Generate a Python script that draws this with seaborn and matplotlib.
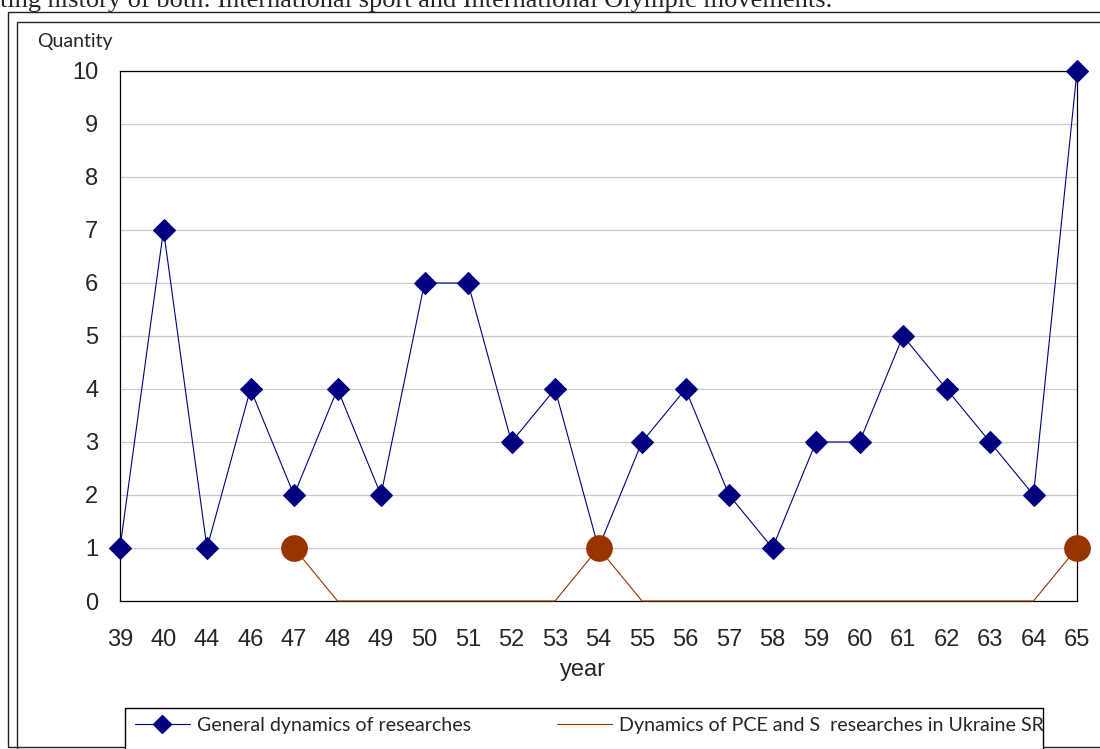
import numpy as np
import pandas as pd
import matplotlib.pyplot as plt
import seaborn as sns
from matplotlib.lines import Line2D
from matplotlib.patches import Rectangle

years = ['39', '40', '44', '46', '47', '48', '49', '50', '51', '52', '53', '54',
         '55', '56', '57', '58', '59', '60', '61', '62', '63', '64', '65']
general = [1, 7, 1, 4, 2, 4, 2, 6, 6, 3, 4, 1, 3, 4, 2, 1, 3, 3, 5, 4, 3, 2, 10]
ukraine = [np.nan, np.nan, np.nan, np.nan, 1, 0, 0, 0, 0, 0, 0, 1,
           0, 0, 0, 0, 0, 0, 0, 0, 0, 0, 1]
y_ticks = list(range(0, 11))

label_general = 'General dynamics of researches'
label_ukraine = 'Dynamics of PCE and S  researches in Ukraine SR'
header_text = 'ting history of both: International sport and International Olympic movements.'

navy = '#000080'
brown = '#993300'

df = pd.DataFrame({'pos': range(len(years)), 'year': years,
                   'general': general, 'ukraine': ukraine})

sns.set_style('white')
plt.rcParams['font.family'] = ['Liberation Sans', 'DejaVu Sans']

fig = plt.figure(figsize=(11, 7.49), dpi=100)

#page / chart frames
W, H = 1100, 749
fig.patches.append(Rectangle((8 / W, 1 - 747 / H), 1.2, (747 - 12) / H, transform=fig.transFigure,
                             fill=False, edgecolor='#222222', lw=1.0, zorder=0))
fig.patches.append(Rectangle((17 / W, -0.05), 1.2, 0.05 + (749 - 22) / H, transform=fig.transFigure,
                             fill=False, edgecolor='#222222', lw=1.0, zorder=0))

ax = fig.add_axes([120 / W, 1 - 601 / H, (1077 - 120) / W, (601 - 71) / H])

#PCE and S line
sns.lineplot(data=df.dropna(), x='pos', y='ukraine', color=brown, lw=0.8, ax=ax,
             clip_on=False, zorder=4)
sns.scatterplot(data=df[df['ukraine'] == 1], x='pos', y='ukraine', color=brown, s=370,
                edgecolor=brown, linewidth=0, ax=ax, clip_on=False, zorder=6)
#general dynamics
sns.lineplot(data=df, x='pos', y='general', color=navy, lw=0.8, marker='D', markersize=11,
             markeredgecolor=navy, ax=ax, clip_on=False, zorder=5)

ax.set_xlim(0, len(years) - 1)
ax.set_ylim(0, 10)
ax.set_xticks(df['pos'])
ax.set_xticklabels(years)
ax.set_yticks(y_ticks)
ax.tick_params(axis='both', labelsize=17, length=5.5, width=0.8, color='black', direction='out')
ax.tick_params(axis='x', pad=15)
ax.tick_params(axis='y', pad=10)
ax.yaxis.grid(True, color='#c8c8c8', lw=0.9)
ax.set_axisbelow(True)
for s in ax.spines.values():
    s.set_color('black')
    s.set_linewidth(0.9)

ax.set_ylabel('')
ax.set_xlabel('year', fontsize=17)
ax.xaxis.set_label_coords((583 - 120) / (1077 - 120), -(670 - 601) / (601 - 71))
ax.xaxis.label.set_va('center')

fig.text(37 / W, 1 - 42 / H, 'Quantity', family='Lato', fontsize=14, va='center', ha='left')
fig.text(0, 1 - 7.5 / H, header_text, family='Liberation Serif', fontsize=19, va='baseline')

#legend box
fig.patches.append(Rectangle((125 / W, -0.05), (1043 - 125) / W, 0.05 + (749 - 708) / H,
                             transform=fig.transFigure, facecolor='white', edgecolor='black',
                             lw=1.0, zorder=3))
handles = [Line2D([], [], color=navy, lw=0.8, marker='D', markersize=9, markeredgecolor=navy),
           Line2D([], [], color=brown, lw=0.8)]
fig.legend(handles, [label_general, label_ukraine], ncol=2, loc='center left',
           bbox_to_anchor=(135 / W, 1 - 725 / H), frameon=False, borderpad=0, borderaxespad=0,
           handlelength=2.8, handletextpad=0.35, columnspacing=4.4,
           prop={'family': 'Lato', 'size': 14.1})

fig.savefig('out.png', dpi=100)
